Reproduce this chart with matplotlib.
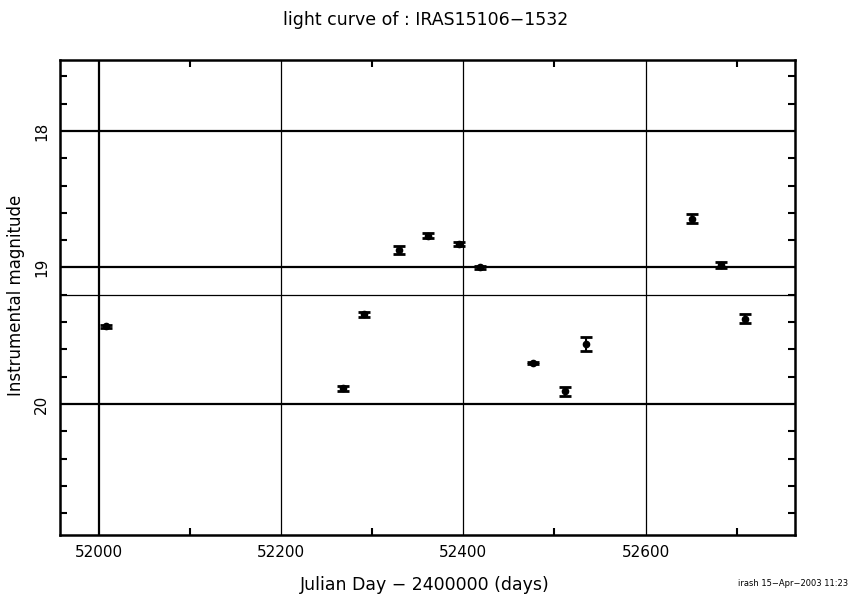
import matplotlib
matplotlib.use("Agg")
import matplotlib.pyplot as plt
from matplotlib.ticker import MultipleLocator

jd = [52007.7, 52268.5, 52291.5, 52329.9, 52360.9, 52395.6, 52417.9,
      52476.0, 52511.0, 52534.8, 52651.0, 52682.7, 52709.4]
mag = [19.432, 19.886, 19.344, 18.873, 18.766, 18.826, 19.000,
       19.700, 19.908, 19.562, 18.643, 18.985, 19.374]
err = [0.008, 0.020, 0.020, 0.030, 0.018, 0.016, 0.010,
       0.008, 0.032, 0.051, 0.033, 0.022, 0.033]
ref_mag = 19.205
xticks = [52000, 52200, 52400, 52600]
yticks = [18, 19, 20]

W, H = 851, 596
fig = plt.figure(figsize=(W/100, H/100), dpi=100)
ax = fig.add_axes([60/W, (H-535)/H, 735/W, 475/H])

ax.set_xlim(51957.6, 52763.8)
ax.set_ylim(20.96, 17.48)

for y in yticks:
    ax.axhline(y, color='black', lw=1.6, zorder=1)
ax.axhline(ref_mag, color='black', lw=0.9, zorder=1)
ax.axvline(xticks[0], color='black', lw=1.6, zorder=1)
for x in xticks[1:]:
    ax.axvline(x, color='black', lw=0.9, zorder=1)

ax.errorbar(jd, mag, yerr=err, fmt='o', color='black', ms=4.5,
            ecolor='black', elinewidth=1.5, capsize=4.5, capthick=2, zorder=3)

ax.set_xticks(xticks)
ax.set_xticklabels([str(v) for v in xticks], fontsize=11, family='DejaVu Sans')
ax.xaxis.set_minor_locator(MultipleLocator(100))
ax.set_yticks(yticks)
ax.set_yticklabels([str(v) for v in yticks], fontsize=11, rotation=90,
                   va='center', family='DejaVu Sans')
ax.yaxis.set_minor_locator(MultipleLocator(0.2))

ax.tick_params(which='both', direction='in', top=True, right=True, width=1.5)
ax.tick_params(which='major', length=0)
ax.tick_params(axis='x', which='major', pad=7)
ax.tick_params(axis='y', which='major', pad=8)
ax.tick_params(which='minor', length=5)

for s in ax.spines.values():
    s.set_linewidth(1.8)

fig.text(425/W, 1 - 585/H, 'Julian Day \u2212 2400000 (days)', fontsize=12.5,
         family='DejaVu Sans', ha='center', va='center')
fig.text(16/W, 1 - 295/H, 'Instrumental magnitude', fontsize=12,
         family='DejaVu Sans', ha='center', va='center', rotation=90)

fig.text(0.5, 1 - 20/H, 'light curve of : IRAS15106\u22121532',
         ha='center', va='center', fontsize=12.5,
         family=['Liberation Sans Narrow', 'DejaVu Sans'])
fig.text(848/W, 1 - 583/H, 'irash 15\u2212Apr\u22122003 11:23',
         ha='right', va='center', fontsize=6, family='DejaVu Sans')

fig.savefig('out.png', dpi=100)
